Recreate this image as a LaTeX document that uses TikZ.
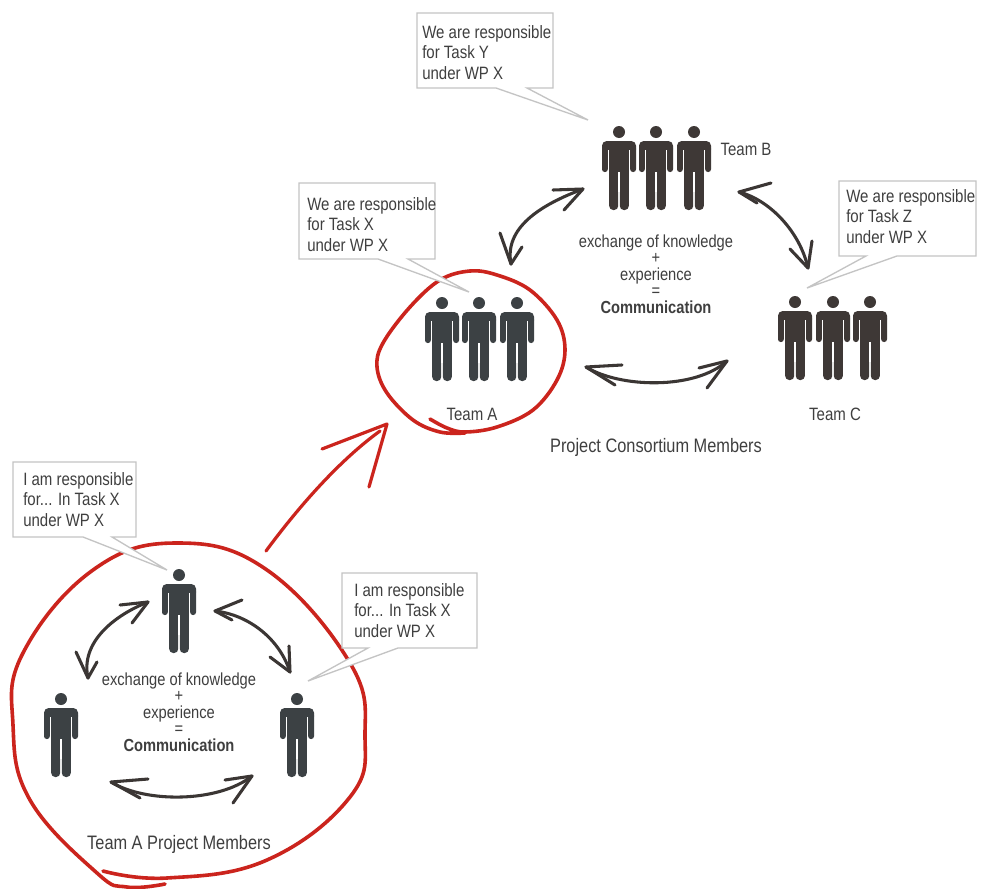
\documentclass[tikz,border=0pt]{standalone}
\usepackage{fontspec}
\setmainfont[FakeStretch=0.84]{Liberation Sans}
\definecolor{peopleA}{HTML}{3C4144}
\definecolor{peopleB}{HTML}{3E3836}
\definecolor{flow}{HTML}{3B3634}
\definecolor{redline}{HTML}{CB241D}
\definecolor{balloon}{HTML}{C4C4C4}
\definecolor{textgrey}{HTML}{3F3F3F}
\tikzset{
  person/.pic={
    \fill[pic actions] (0,0) circle (6);
    \fill[pic actions,rounded corners=3.5] (-17,22) -- (-17,9) -- (17,9) -- (17,22) -- cycle;
    \fill[pic actions,rounded corners=2] (-17,14) rectangle (-11.2,40);
    \fill[pic actions,rounded corners=2] (11.2,14) rectangle (17,40);
    \fill[white] (-11.2,17.5) rectangle (-9.8,24);
    \fill[white] (9.8,17.5) rectangle (11.2,24);
    \fill[pic actions] (-9.8,13) rectangle (9.8,42);
    \fill[pic actions,rounded corners=3] (-9.8,30) rectangle (-0.8,78);
    \fill[pic actions,rounded corners=3] (0.8,30) rectangle (9.8,78);
    \fill[white] (-0.8,40) rectangle (0.8,60);
  },
  flowline/.style={draw=flow,line width=2.3,line cap=round,line join=round},
  redstroke/.style={draw=redline,line width=2.7,line cap=round,line join=round},
  redarrow/.style={draw=redline,line width=2.4,line cap=round,line join=round},
  callout/.style={draw=balloon,fill=white,line width=1},
  calltext/.style={text=textgrey,font=\fontsize{13.4}{15.5}\selectfont,align=left,anchor=north west,inner sep=0},
  midtext/.style={text=textgrey,font=\fontsize{13.1}{12.4}\selectfont,align=center,inner sep=0},
  teamlabel/.style={text=textgrey,font=\fontsize{13.4}{15}\selectfont,inner sep=0},
  biglabel/.style={text=textgrey,font=\fontsize{14.6}{16}\selectfont,inner sep=0},
}
\begin{document}
\begin{tikzpicture}[x=0.75pt,y=-0.75pt]
\useasboundingbox (0,0) rectangle (982,889);
\fill[white] (0,0) rectangle (982,889);
% red outlines
\draw[redstroke] plot[smooth,tension=0.6] coordinates {(430,419) (447,428) (465,432) (497,427) (533,410) (557,380) (565,350) (557,320) (530,290) (497,275) (470,271) (440,280) (410,307) (383,343) (377,367) (387,393) (413,420) (440,432) (465,433)};
\draw[redstroke] plot[smooth,tension=0.7] coordinates {(103,871) (167,878) (267,860) (350,797) (365,735) (350,663) (267,570) (177,543) (93,570) (23,653) (13,725) (30,800) (97,873) (127,887) (165,884)};
% callouts
\draw[callout] (299,183) -- (435,183) -- (435,259) -- (408,259) -- (469,292) -- (378,259) -- (299,259) -- cycle;
\node[calltext] (textA) at (307,197) {We are responsible\\for Task X\\under WP X};
\draw[callout] (417,13) -- (553,13) -- (553,88) -- (527,88) -- (588,120) -- (496,88) -- (417,88) -- cycle;
\node[calltext] (textY) at (422,25) {We are responsible\\for Task Y\\under WP X};
\draw[callout] (839,181) -- (976,181) -- (976,256) -- (897,256) -- (807,288) -- (866,256) -- (839,256) -- cycle;
\node[calltext] (textZ) at (846,189) {We are responsible\\for Task Z\\under WP X};
\draw[callout] (13,462) -- (136,462) -- (136,537) -- (112,537) -- (167,570) -- (83,537) -- (13,537) -- cycle;
\node[calltext] (textL) at (23,472) {I am responsible\\for... In Task X\\under WP X};
\draw[callout] (342,573) -- (477,573) -- (477,648) -- (398,648) -- (308,681) -- (368,648) -- (342,648) -- cycle;
\node[calltext] (textR) at (354,583) {I am responsible\\for... In Task X\\under WP X};
% people
\foreach \n/\x in {1/442,2/479,3/517}{\path[fill=peopleA] pic (a\n) at (\x,303) {person};}
\foreach \n/\x in {1/619,2/656,3/694}{\path[fill=peopleB] pic (b\n) at (\x,132) {person};}
\foreach \n/\x in {1/795,2/833,3/870}{\path[fill=peopleB] pic (c\n) at (\x,302) {person};}
\path[fill=peopleA] pic (m1) at (179,575) {person};
\path[fill=peopleA] pic (m2) at (61,699) {person};
\path[fill=peopleA] pic (m3) at (297,699) {person};
% anchors for connectors
\coordinate (abL) at (511,264); \coordinate (abT) at (583,189);
\coordinate (bcT) at (739,192); \coordinate (bcB) at (808,268);
\coordinate (acL) at (586,367); \coordinate (acR) at (727,361);
\coordinate (m12a) at (88,678); \coordinate (m12b) at (148,602);
\coordinate (m13a) at (215,611); \coordinate (m13b) at (290,672);
\coordinate (m23a) at (111,782); \coordinate (m23b) at (252,776);
\coordinate (bigS) at (266,551); \coordinate (bigE) at (380,431);
\coordinate (bigTip) at (387,424); \coordinate (bigB1) at (322,449); \coordinate (bigB2) at (369,487);
% double-headed flow arrows
\draw[flowline] (abL) .. controls (504,228) and (540,205) .. (abT);
\draw[flowline] (500,233) -- (abL) -- (522,247);
\draw[flowline] (553,190) -- (abT) -- (564,210);
\draw[flowline] (bcT) .. controls (770,200) and (800,232) .. (bcB);
\draw[flowline] (771,183) -- (bcT) -- (757,203);
\draw[flowline] (812,241) -- (bcB) -- (790,249);
\draw[flowline] (acL) .. controls (620,388) and (695,390) .. (acR);
\draw[flowline] (622,365) -- (acL) -- (615,385);
\draw[flowline] (699,368) -- (acR) -- (707,388);
\draw[flowline] (m12a) .. controls (80,642) and (115,615) .. (m12b);
\draw[flowline] (76,652) -- (m12a) -- (97,662);
\draw[flowline] (120,605) -- (m12b) -- (132,623);
\draw[flowline] (m13a) .. controls (250,615) and (280,640) .. (m13b);
\draw[flowline] (242,600) -- (m13a) -- (232,620);
\draw[flowline] (289,646) -- (m13b) -- (270,657);
\draw[flowline] (m23a) .. controls (145,803) and (218,803) .. (m23b);
\draw[flowline] (148,779) -- (m23a) -- (140,798);
\draw[flowline] (225,780) -- (m23b) -- (233,803);
% big red arrow
\draw[redarrow] (bigS) .. controls (300,505) and (340,460) .. (bigE);
\draw[redarrow] (bigB1) -- (bigTip) -- (bigB2);
% texts
\node[midtext] (mid1) at (656,274) {exchange of knowledge\\+\\experience\\=\\\textbf{Communication}};
\node[midtext] (mid2) at (179,712) {exchange of knowledge\\+\\experience\\=\\\textbf{Communication}};
\node[teamlabel] (teamA) at (472,414) {Team A};
\node[teamlabel] (teamB) at (746,149) {Team B};
\node[teamlabel] (teamC) at (835,414) {Team C};
\node[biglabel] (cons) at (656,447) {Project Consortium Members};
\node[biglabel] (members) at (179,844) {Team A Project Members};
\end{tikzpicture}
\end{document}
